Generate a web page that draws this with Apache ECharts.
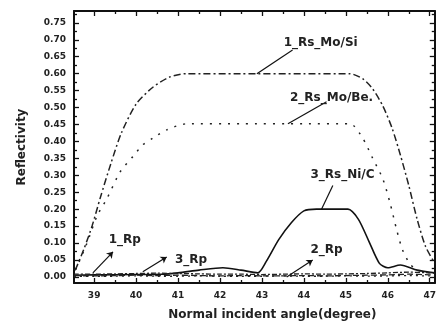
<!DOCTYPE html>
<html>
<head>
<meta charset="utf-8">
<script src="https://cdn.jsdelivr.net/npm/echarts@6/dist/echarts.min.js"></script>
<style>
  html, body { margin: 0; padding: 0; background: #fff; }
  #chart { width: 439px; height: 329px; }
</style>
</head>
<body>
<div id="chart"></div>
<script>
// tick labels
const xTicks = [39, 40, 41, 42, 43, 44, 45, 46, 47];
const xMinorTicks = [39.5, 40.5, 41.5, 42.5, 43.5, 44.5, 45.5, 46.5];
const yTicks = [0, 0.05, 0.1, 0.15, 0.2, 0.25, 0.3, 0.35, 0.4, 0.45, 0.5, 0.55, 0.6, 0.65, 0.7, 0.75];
const yMinorTicks = [0.025, 0.075, 0.125, 0.175, 0.225, 0.275, 0.325, 0.375, 0.425, 0.475, 0.525, 0.575, 0.625, 0.675, 0.725, 0.775];

// 1_Rs_Mo/Si
const moSiAngle = [38.55, 38.75, 38.95, 39.15, 39.4, 39.65, 40.0, 40.4, 40.8, 41.2, 42.5, 44.0, 45.09, 45.4, 45.64, 45.88, 46.1, 46.3, 46.5, 46.7, 46.9, 47.12];
const moSiRs = [0.02, 0.08, 0.15, 0.235, 0.335, 0.425, 0.51, 0.56, 0.59, 0.6, 0.6, 0.6, 0.6, 0.585, 0.555, 0.505, 0.44, 0.36, 0.27, 0.17, 0.09, 0.04];

// 2_Rs_Mo/Be
const moBeAngle = [38.55, 38.66, 38.83, 39.07, 39.3, 39.62, 39.92, 40.16, 40.4, 40.73, 41.2, 42.5, 44.0, 45.1, 45.4, 45.64, 45.88, 46.05, 46.21, 46.35, 46.52, 46.7, 47.12];
const moBeRs = [0.02, 0.05, 0.1, 0.18, 0.23, 0.31, 0.355, 0.39, 0.41, 0.434, 0.452, 0.452, 0.452, 0.452, 0.41, 0.35, 0.29, 0.22, 0.14, 0.08, 0.04, 0.02, 0.01];

// 3_Rs_Ni/C
const niCAngle = [38.52, 39, 40, 40.6, 41, 41.5, 42.07, 42.5, 42.9, 43.1, 43.4, 43.7, 44.0, 44.3, 45.05, 45.3, 45.55, 45.8, 46.0, 46.3, 46.7, 47.12];
const niCRs = [0.005, 0.006, 0.007, 0.008, 0.012, 0.02, 0.027, 0.02, 0.012, 0.045, 0.11, 0.16, 0.195, 0.2, 0.2, 0.17, 0.105, 0.04, 0.027, 0.035, 0.02, 0.012];

// Rp curves (all near zero)
const rpAngle = [38.52, 39, 39.5, 40, 40.5, 41, 41.5, 42, 42.5, 43, 43.5, 44, 44.5, 45, 45.5, 46, 46.5, 47, 47.12];
const rp1 = [0.004, 0.003, 0.004, 0.005, 0.004, 0.005, 0.004, 0.003, 0.004, 0.003, 0.003, 0.004, 0.003, 0.004, 0.005, 0.006, 0.008, 0.006, 0.005];
const rp2 = [0.002, 0.002, 0.002, 0.003, 0.002, 0.002, 0.003, 0.002, 0.002, 0.002, 0.003, 0.002, 0.002, 0.003, 0.002, 0.003, 0.004, 0.003, 0.003];
const rp3 = [0.008, 0.008, 0.009, 0.01, 0.011, 0.01, 0.009, 0.008, 0.008, 0.007, 0.008, 0.009, 0.008, 0.009, 0.01, 0.012, 0.014, 0.012, 0.011];

const pairs = (xs, ys) => xs.map((x, i) => [x, ys[i]]);

const X_MIN = 38.52, X_MAX = 47.12;
const Y_MIN = -0.018, Y_MAX = 0.785;

const chart = echarts.init(document.getElementById("chart"), null, { renderer: "canvas" });

const tickFont = { color: "#222", fontFamily: "DejaVu Sans", fontSize: 9, fontWeight: "bold" };
const noteFont = { color: "#222", fontFamily: "DejaVu Sans", fontSize: 12, fontWeight: "bold" };

function frameAxis(position, min, max, ticks, len, showLine) {
  return {
    type: "value",
    position,
    min,
    max,
    axisLine: { show: showLine, onZero: false, lineStyle: { color: "#111", width: 2 } },
    axisTick: { show: true, inside: true, length: len, customValues: ticks, lineStyle: { color: "#111", width: 1.3 } },
    axisLabel: { show: false },
    splitLine: { show: false },
  };
}

// leader line + label for one curve
function note(text, from, to, label, arrow) {
  return {
    markLine: {
      silent: true,
      animation: false,
      symbol: ["none", arrow ? "arrow" : "none"],
      symbolSize: 6,
      lineStyle: { color: "#111", width: 1.2, type: "solid" },
      label: { show: false },
      data: [[{ coord: from }, { coord: to }]],
    },
    markPoint: {
      silent: true,
      animation: false,
      symbol: "circle",
      symbolSize: 0,
      label: { show: true, position: "inside", formatter: text, ...noteFont },
      data: [{ coord: label }],
    },
  };
}

const curve = (name, xs, ys, lineStyle, extra) => ({
  name,
  type: "line",
  data: pairs(xs, ys),
  smooth: 0.25,
  showSymbol: false,
  lineStyle,
  ...extra,
});

const option = {
  animation: false,
  grid: { left: 74, right: 4, top: 11, bottom: 46, containLabel: false },
  xAxis: [
    {
      type: "value",
      position: "bottom",
      min: X_MIN,
      max: X_MAX,
      name: "Normal incident angle(degree)",
      nameLocation: "middle",
      nameGap: 26,
      nameTextStyle: { ...noteFont, padding: [0, 0, 0, 36] },
      axisLine: { show: true, onZero: false, lineStyle: { color: "#111", width: 2 } },
      axisTick: { show: true, inside: true, length: 5, customValues: xTicks, lineStyle: { color: "#111", width: 1.3 } },
      axisLabel: { customValues: xTicks, margin: 8, formatter: (v) => String(Math.round(v)), ...tickFont },
      splitLine: { show: false },
    },
    frameAxis("bottom", X_MIN, X_MAX, xMinorTicks, 3, false),
    frameAxis("top", X_MIN, X_MAX, xTicks, 5, true),
    frameAxis("top", X_MIN, X_MAX, xMinorTicks, 3, false),
  ],
  yAxis: [
    {
      type: "value",
      position: "left",
      min: Y_MIN,
      max: Y_MAX,
      name: "Reflectivity",
      nameLocation: "middle",
      nameGap: 46,
      nameRotate: 90,
      nameTextStyle: { ...noteFont },
      axisLine: { show: true, onZero: false, lineStyle: { color: "#111", width: 2 } },
      axisTick: { show: true, inside: true, length: 5, customValues: yTicks, lineStyle: { color: "#111", width: 1.3 } },
      axisLabel: { customValues: yTicks, margin: 8, formatter: (v) => v.toFixed(2), ...tickFont },
      splitLine: { show: false },
    },
    frameAxis("left", Y_MIN, Y_MAX, yMinorTicks, 3, false),
    frameAxis("right", Y_MIN, Y_MAX, yTicks, 5, true),
    frameAxis("right", Y_MIN, Y_MAX, yMinorTicks, 3, false),
  ],
  series: [
    curve("1_Rs_Mo/Si", moSiAngle, moSiRs, { color: "#222", width: 1.5, type: [7, 3, 2, 3] },
      note("1_Rs_Mo/Si", [42.88, 0.6], [43.73, 0.67], [44.4, 0.69], false)),
    curve("2_Rs_Mo/Be", moBeAngle, moBeRs, { color: "#222", width: 1.5, type: [2, 7] },
      note("2_Rs_Mo/Be.", [43.62, 0.452], [44.54, 0.517], [44.66, 0.53], false)),
    curve("3_Rs_Ni/C", niCAngle, niCRs, { color: "#111", width: 1.6, type: "solid" },
      note("3_Rs_Ni/C", [44.42, 0.2], [44.69, 0.27], [44.92, 0.3], false)),
    curve("1_Rp", rpAngle, rp1, { color: "#222", width: 1.3, type: [6, 3] },
      note("1_Rp", [38.97, 0.012], [39.45, 0.074], [39.73, 0.11], true)),
    curve("2_Rp", rpAngle, rp2, { color: "#222", width: 1.3, type: [2, 4] },
      note("2_Rp", [43.59, 0.0], [44.21, 0.05], [44.54, 0.08], true)),
    curve("3_Rp", rpAngle, rp3, { color: "#222", width: 1.3, type: [5, 2, 2, 2] },
      note("3_Rp", [40.16, 0.015], [40.73, 0.059], [41.31, 0.05], true)),
  ],
};

chart.setOption(option);
</script>
</body>
</html>
